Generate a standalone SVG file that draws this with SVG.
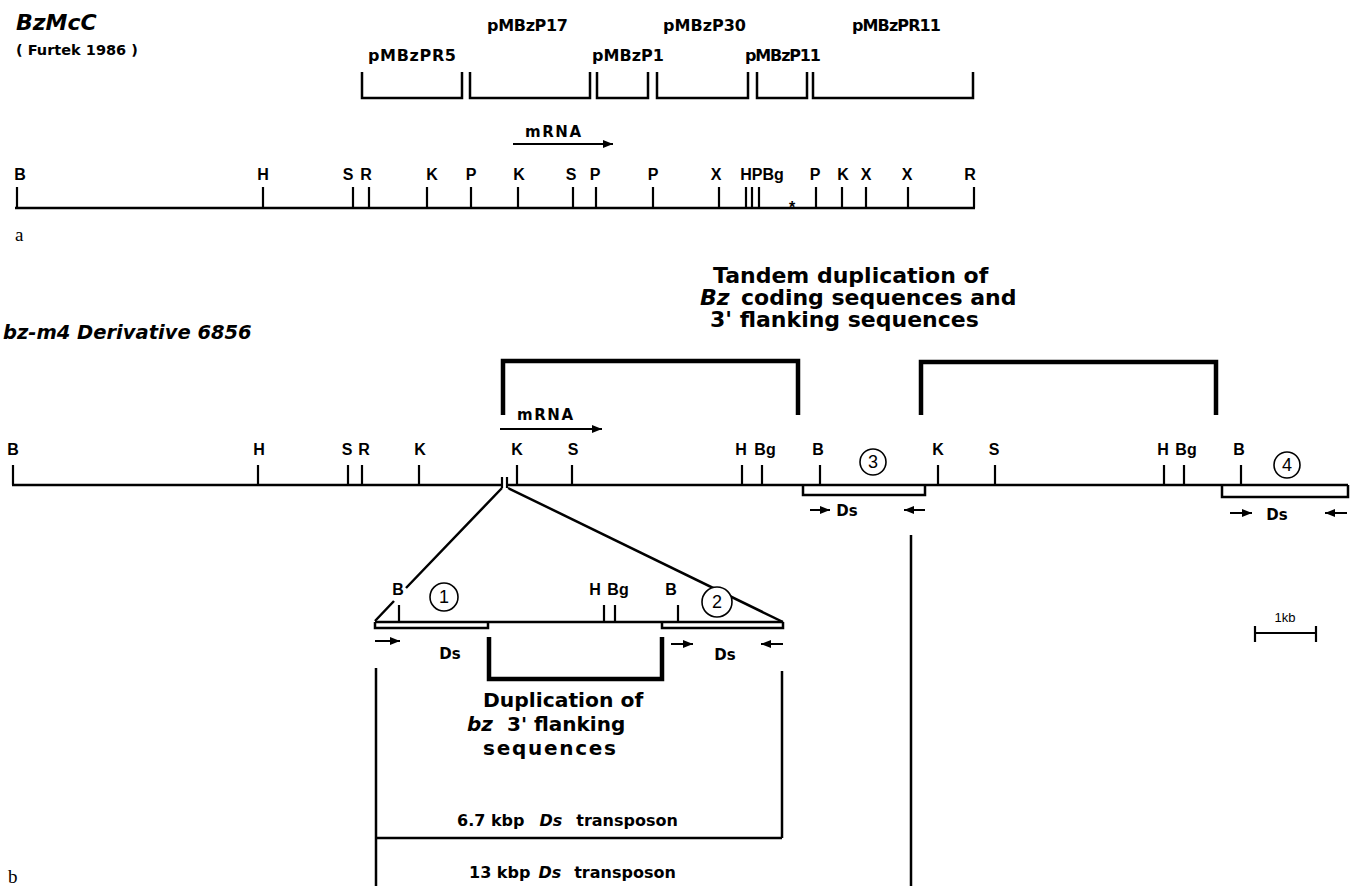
<svg xmlns="http://www.w3.org/2000/svg" width="1355" height="886" viewBox="0 0 1355 886">
<style>
.ln{stroke:#000;stroke-width:2.5;fill:none}
.tk{stroke:#000;stroke-width:2.2;fill:none}
.thk{stroke:#000;stroke-width:4.5;fill:none}
.lab{font-family:"DejaVu Sans","Liberation Sans",sans-serif;font-weight:bold;fill:#000}
.site{font-family:"Liberation Sans",Arial,sans-serif;font-weight:bold;font-size:16px;text-anchor:middle;fill:#000}
.num{font-family:"Liberation Sans",Arial,sans-serif;font-size:18px;text-anchor:middle;fill:#000}
.circ{fill:#fff;stroke:#000;stroke-width:1.6}
.serif{font-family:"Liberation Serif","Times New Roman",serif;font-size:19px;fill:#000}
.arr{stroke:#000;stroke-width:2;fill:none;marker-end:url(#ah)}
</style>
<defs>
<marker id="ah" viewBox="0 0 10 8" refX="10" refY="4" markerWidth="10" markerHeight="8" markerUnits="userSpaceOnUse" orient="auto"><path d="M0,0 L10,4 L0,8 Z" fill="#000"/></marker>
</defs>

<!-- Part a -->
<g id="title-a">
<text class="lab" x="16" y="30" font-size="22" font-style="italic">BzMcC</text>
<text class="lab" x="16" y="55" font-size="14.5">( Furtek 1986 )</text>
</g>

<g id="clones">
<text class="lab" x="368" y="61" font-size="16" textLength="88">pMBzPR5</text>
<text class="lab" x="487" y="31" font-size="16" textLength="81">pMBzP17</text>
<text class="lab" x="592" y="61" font-size="16" textLength="72">pMBzP1</text>
<text class="lab" x="663" y="31" font-size="16" textLength="83">pMBzP30</text>
<text class="lab" x="745" y="61" font-size="16" textLength="76">pMBzP11</text>
<text class="lab" x="852" y="31" font-size="16" textLength="89">pMBzPR11</text>
<path class="ln" d="M362,72 V98 H462 V72 M470,72 V98 H590 V72 M597,72 V98 H648 V72 M657,72 V98 H748 V72 M757,72 V98 H807 V72 M813,72 V98 H973 V72"/>
</g>

<g id="mrna-a">
<text class="lab" x="553" y="137" font-size="15" text-anchor="middle" textLength="56">mRNA</text>
<line class="arr" x1="513" y1="144" x2="613" y2="144"/>
</g>

<g id="map-a">
<path class="ln" d="M15,208 H975"/>
<path class="tk" d="M17,187 V208 M263,187 V208 M353,187 V208 M369,187 V208 M427,187 V208 M471,187 V208 M518,187 V208 M573,187 V208 M596,187 V208 M653,187 V208 M719,187 V208 M746,187 V208 M752,187 V208 M759,187 V208 M816,187 V208 M842,187 V208 M866,187 V208 M908,187 V208 M974,187 V208"/>
<text class="site" x="20" y="180">B</text>
<text class="site" x="263" y="180">H</text>
<text class="site" x="348" y="180">S</text>
<text class="site" x="366" y="180">R</text>
<text class="site" x="432" y="180">K</text>
<text class="site" x="471" y="180">P</text>
<text class="site" x="519" y="180">K</text>
<text class="site" x="571" y="180">S</text>
<text class="site" x="595" y="180">P</text>
<text class="site" x="653" y="180">P</text>
<text class="site" x="716" y="180">X</text>
<text class="site" x="762" y="180">HPBg</text>
<text class="site" x="815" y="180">P</text>
<text class="site" x="843" y="180">K</text>
<text class="site" x="866" y="180">X</text>
<text class="site" x="907" y="180">X</text>
<text class="site" x="970" y="180">R</text>
<text class="site" x="792" y="213">*</text>
</g>
<text class="serif" x="15" y="241">a</text>

<!-- Part b -->
<g id="title-b">
<text class="lab" x="3" y="339" font-size="19.5" font-style="italic">bz-m4 Derivative 6856</text>
</g>

<g id="tandem-label">
<text class="lab" x="713" y="283" font-size="22">Tandem duplication of</text>
<text class="lab" x="700" y="305" font-size="22" font-style="italic">Bz</text>
<text class="lab" x="741" y="305" font-size="22">coding sequences and</text>
<text class="lab" x="710" y="327" font-size="22">3' flanking sequences</text>
</g>

<g id="tandem-brackets">
<path class="thk" d="M503,415 V361 H798 V415"/>
<path class="thk" d="M921,415 V362 H1216 V415"/>
</g>

<g id="mrna-b">
<text class="lab" x="545" y="420" font-size="15" text-anchor="middle" textLength="56">mRNA</text>
<line class="arr" x1="500" y1="429" x2="602" y2="429"/>
</g>

<g id="map-b">
<path class="ln" d="M12,485 H502 M507,485 H1348"/>
<path class="tk" d="M502,477 V488 M507,477 V488"/>
<path class="tk" d="M13,465 V485 M258,465 V485 M348,465 V485 M362,465 V485 M419,465 V485 M517,465 V485 M572,465 V485 M742,465 V485 M762,465 V485 M820,465 V485 M938,465 V485 M995,465 V485 M1164,465 V485 M1184,465 V485 M1241,465 V485"/>
<text class="site" x="13" y="455">B</text>
<text class="site" x="259" y="455">H</text>
<text class="site" x="347" y="455">S</text>
<text class="site" x="364" y="455">R</text>
<text class="site" x="420" y="455">K</text>
<text class="site" x="517" y="455">K</text>
<text class="site" x="573" y="455">S</text>
<text class="site" x="741" y="455">H</text>
<text class="site" x="765" y="455">Bg</text>
<text class="site" x="818" y="455">B</text>
<text class="site" x="938" y="455">K</text>
<text class="site" x="994" y="455">S</text>
<text class="site" x="1163" y="455">H</text>
<text class="site" x="1186" y="455">Bg</text>
<text class="site" x="1239" y="455">B</text>
</g>

<g id="ds3">
<path class="ln" d="M803,485 V495 H925 V485"/>
<circle class="circ" cx="873" cy="462" r="13"/>
<text class="num" x="873" y="468">3</text>
<line class="arr" x1="810" y1="510" x2="830" y2="510"/>
<text class="lab" x="847" y="516" font-size="15" text-anchor="middle">Ds</text>
<line class="arr" x1="925" y1="510" x2="904" y2="510"/>
</g>

<g id="ds4">
<path class="ln" d="M1222,485 V497 H1348 V485"/>
<circle class="circ" cx="1287" cy="465" r="13"/>
<text class="num" x="1287" y="471">4</text>
<line class="arr" x1="1230" y1="513" x2="1252" y2="513"/>
<text class="lab" x="1277" y="520" font-size="15" text-anchor="middle">Ds</text>
<line class="arr" x1="1347" y1="513" x2="1325" y2="513"/>
</g>

<g id="connectors">
<path class="ln" d="M502,488 L406,588 M394,601 L375,621"/>
<path class="ln" d="M508,488 L783,622"/>
<path class="ln" d="M376,668 V886 M782,671 V838 M376,838 H782"/>
<path class="ln" d="M911,535 V886"/>
</g>

<g id="insert">
<path class="ln" d="M375,622 H783"/>
<path class="ln" d="M375,622 V628 H488 V622 M662,622 V628 H783 V622"/>
<path class="tk" d="M399,605 V622 M604,605 V622 M615,605 V622 M678,605 V622"/>
<text class="site" x="398" y="595">B</text>
<text class="site" x="595" y="595">H</text>
<text class="site" x="618" y="595">Bg</text>
<text class="site" x="671" y="595">B</text>
</g>

<g id="ds1">
<circle class="circ" cx="444" cy="597" r="14"/>
<text class="num" x="444" y="603">1</text>
<line class="arr" x1="375" y1="641" x2="400" y2="641"/>
<text class="lab" x="450" y="659" font-size="15" text-anchor="middle">Ds</text>
</g>

<g id="ds2">
<circle class="circ" cx="717" cy="602" r="15"/>
<text class="num" x="717" y="608">2</text>
<line class="arr" x1="671" y1="644" x2="693" y2="644"/>
<text class="lab" x="725" y="660" font-size="15" text-anchor="middle">Ds</text>
<line class="arr" x1="783" y1="644" x2="761" y2="644"/>
</g>

<g id="dup-3prime">
<path class="thk" d="M489,637 V679 H662 V637"/>
<text class="lab" x="483" y="707" font-size="20.3">Duplication of</text>
<text class="lab" x="467" y="731" font-size="20" font-style="italic">bz</text>
<text class="lab" x="507" y="731" font-size="20">3' flanking</text>
<text class="lab" x="483" y="755" font-size="20" textLength="133">sequences</text>
</g>

<g id="ds-6-7kbp">
<text class="lab" x="457" y="826" font-size="16">6.7 kbp<tspan dx="15" font-style="italic">Ds</tspan><tspan dx="14">transposon</tspan></text>
</g>

<g id="ds-13kbp">
<text class="lab" x="469" y="878" font-size="16">13 kbp<tspan dx="8" font-style="italic">Ds</tspan><tspan dx="13">transposon</tspan></text>
</g>

<g id="scale-bar">
<path class="tk" d="M1254,633 H1316 M1255,626 V642 M1316,626 V642"/>
<text x="1285" y="622" font-family="Liberation Sans, Arial, sans-serif" font-size="13" text-anchor="middle">1kb</text>
</g>

<text class="serif" x="8" y="883">b</text>
</svg>
